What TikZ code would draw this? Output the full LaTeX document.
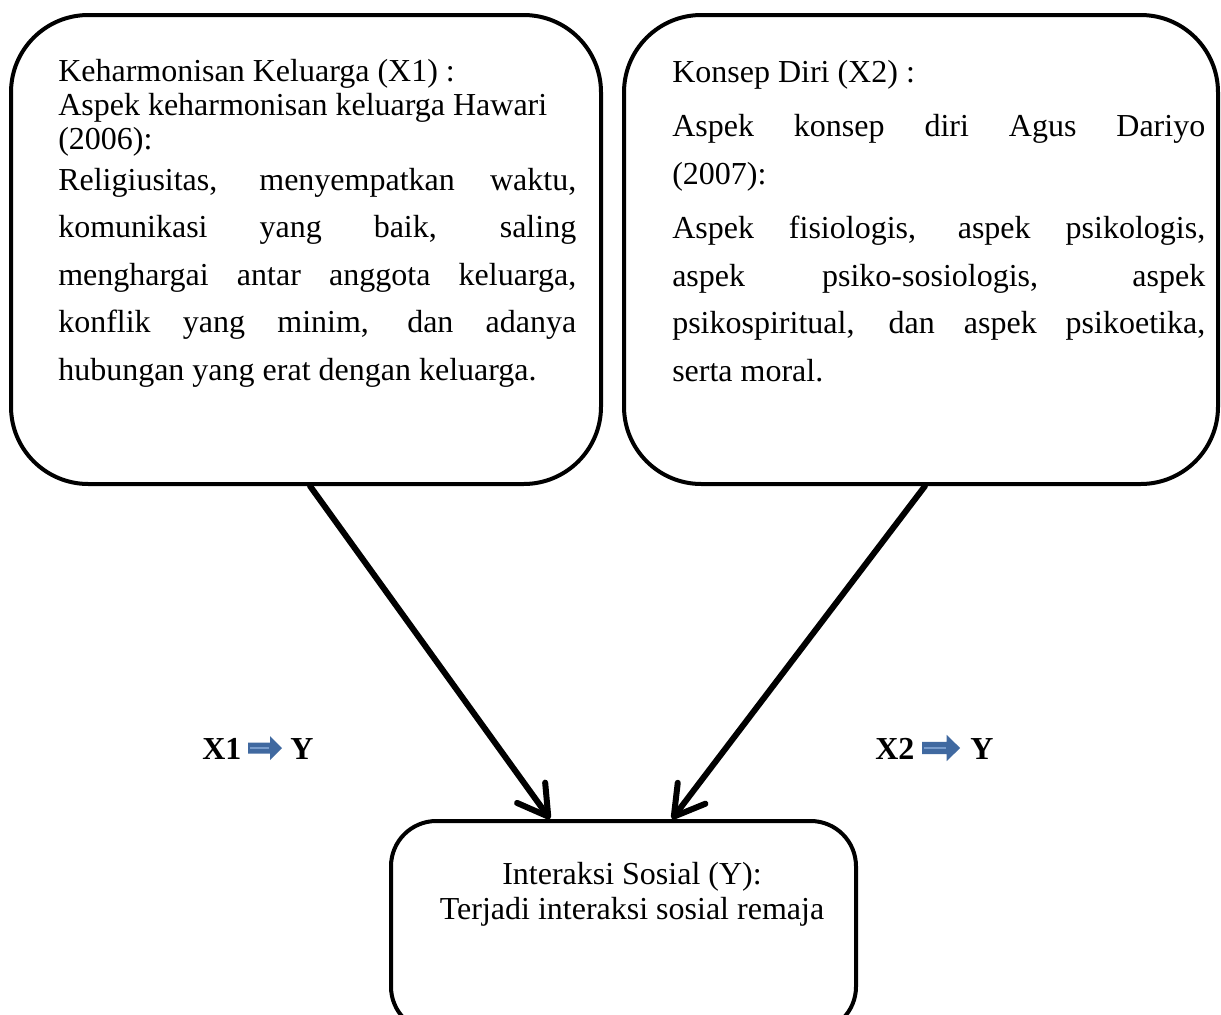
\documentclass[tikz,border=0pt]{standalone}
\usepackage{fontspec}
\setmainfont{Liberation Serif}
\usetikzlibrary{arrows.meta,calc}
\definecolor{arrowblue}{RGB}{64,105,160}
\definecolor{arrowlight}{RGB}{120,156,204}
\hbadness=10000
\hyphenpenalty=10000
\exhyphenpenalty=10000
\begin{document}
\begin{tikzpicture}[x=0.75pt,y=-0.75pt,
  bigbox/.style={draw=black, line width=3pt, rounded corners=58pt, inner sep=0pt, fill=none},
  smallbox/.style={draw=black, line width=3pt, rounded corners=34pt, inner sep=0pt, fill=none},
  txt/.style={inner sep=0pt, anchor=base west},
  justtxt/.style={txt, align=justify, font=\fontsize{24pt}{35.625pt}\selectfont},
  bigarrow/.style={line width=4.5pt, line cap=round, -{Straight Barb[length=22pt,width=26pt,round]}},
  lbl/.style={inner sep=0pt, anchor=base west, font=\fontsize{24pt}{28pt}\selectfont\bfseries},
  pics/rarr/.style={code={
    \fill[arrowblue] (0,-5.5) -- (22,-5.5) -- (22,-12) -- (34,0) -- (22,12) -- (22,5.5) -- (0,5.5) -- cycle;
    \draw[arrowlight, line width=0.8pt] (2,0) -- (21,0);
  }}
]
\useasboundingbox (0,0) rectangle (1221,1014);
\clip (0,0) rectangle (1221,1014);

% boxes
\node[bigbox, minimum width=442.5pt, minimum height=351.75pt] (b1) at (306,249.5) {};
\node[bigbox, minimum width=445.5pt, minimum height=351.75pt] (b2) at (921,249.5) {};
\node[smallbox, minimum width=348.75pt, minimum height=158.25pt] (b3) at (623.5,926.5) {};

% texts left box
\node[txt, text width=388.5pt, align=flush left, font=\fontsize{24pt}{25.5pt}\selectfont] (h1) at (58,81)
  {Keharmonisan Keluarga (X1) :\\Aspek keharmonisan keluarga Hawari\\(2006):};
\node[justtxt, text width=388.5pt] (t1) at (58,190)
  {\tolerance=10000 Religiusitas, menyempatkan waktu,\linebreak komunikasi yang baik, saling\linebreak menghargai antar anggota keluarga,\linebreak konflik yang minim, dan adanya\linebreak hubungan yang erat dengan keluarga.};

% texts right box
\node[justtxt, text width=399.75pt] (t2) at (672,82)
  {\tolerance=10000 \parskip=5.25pt Konsep Diri (X2) :\par
   Aspek konsep diri Agus Dariyo\linebreak (2007):\par
   Aspek fisiologis, aspek psikologis,\linebreak aspek psiko-sosiologis, aspek\linebreak psikospiritual, dan aspek psikoetika,\linebreak serta moral.};

% text bottom box
\node[inner sep=0pt, anchor=base, text width=348pt, align=flush center, font=\fontsize{24pt}{26.25pt}\selectfont] (t3) at (632,884)
  {Interaksi Sosial (Y):\\Terjadi interaksi sosial remaja};

% connectors
\draw[bigarrow] ($(b1.south)+(4,0)$) -- ($(b3.north)+(-73.5,0)$);
\draw[bigarrow] ($(b2.south)+(4,0)$) -- ($(b3.north)+(48.5,0)$);

% labels
\node[lbl] (x1) at (202,759) {X1};
\pic at (248,748) {rarr};
\node[lbl] (y1) at (290,759) {Y};

\node[lbl] (x2) at (875,759) {X2};
\pic[xscale=1.12, yscale=1.1] at (922,748) {rarr};
\node[lbl] (y2) at (970,759) {Y};
\end{tikzpicture}
\end{document}
